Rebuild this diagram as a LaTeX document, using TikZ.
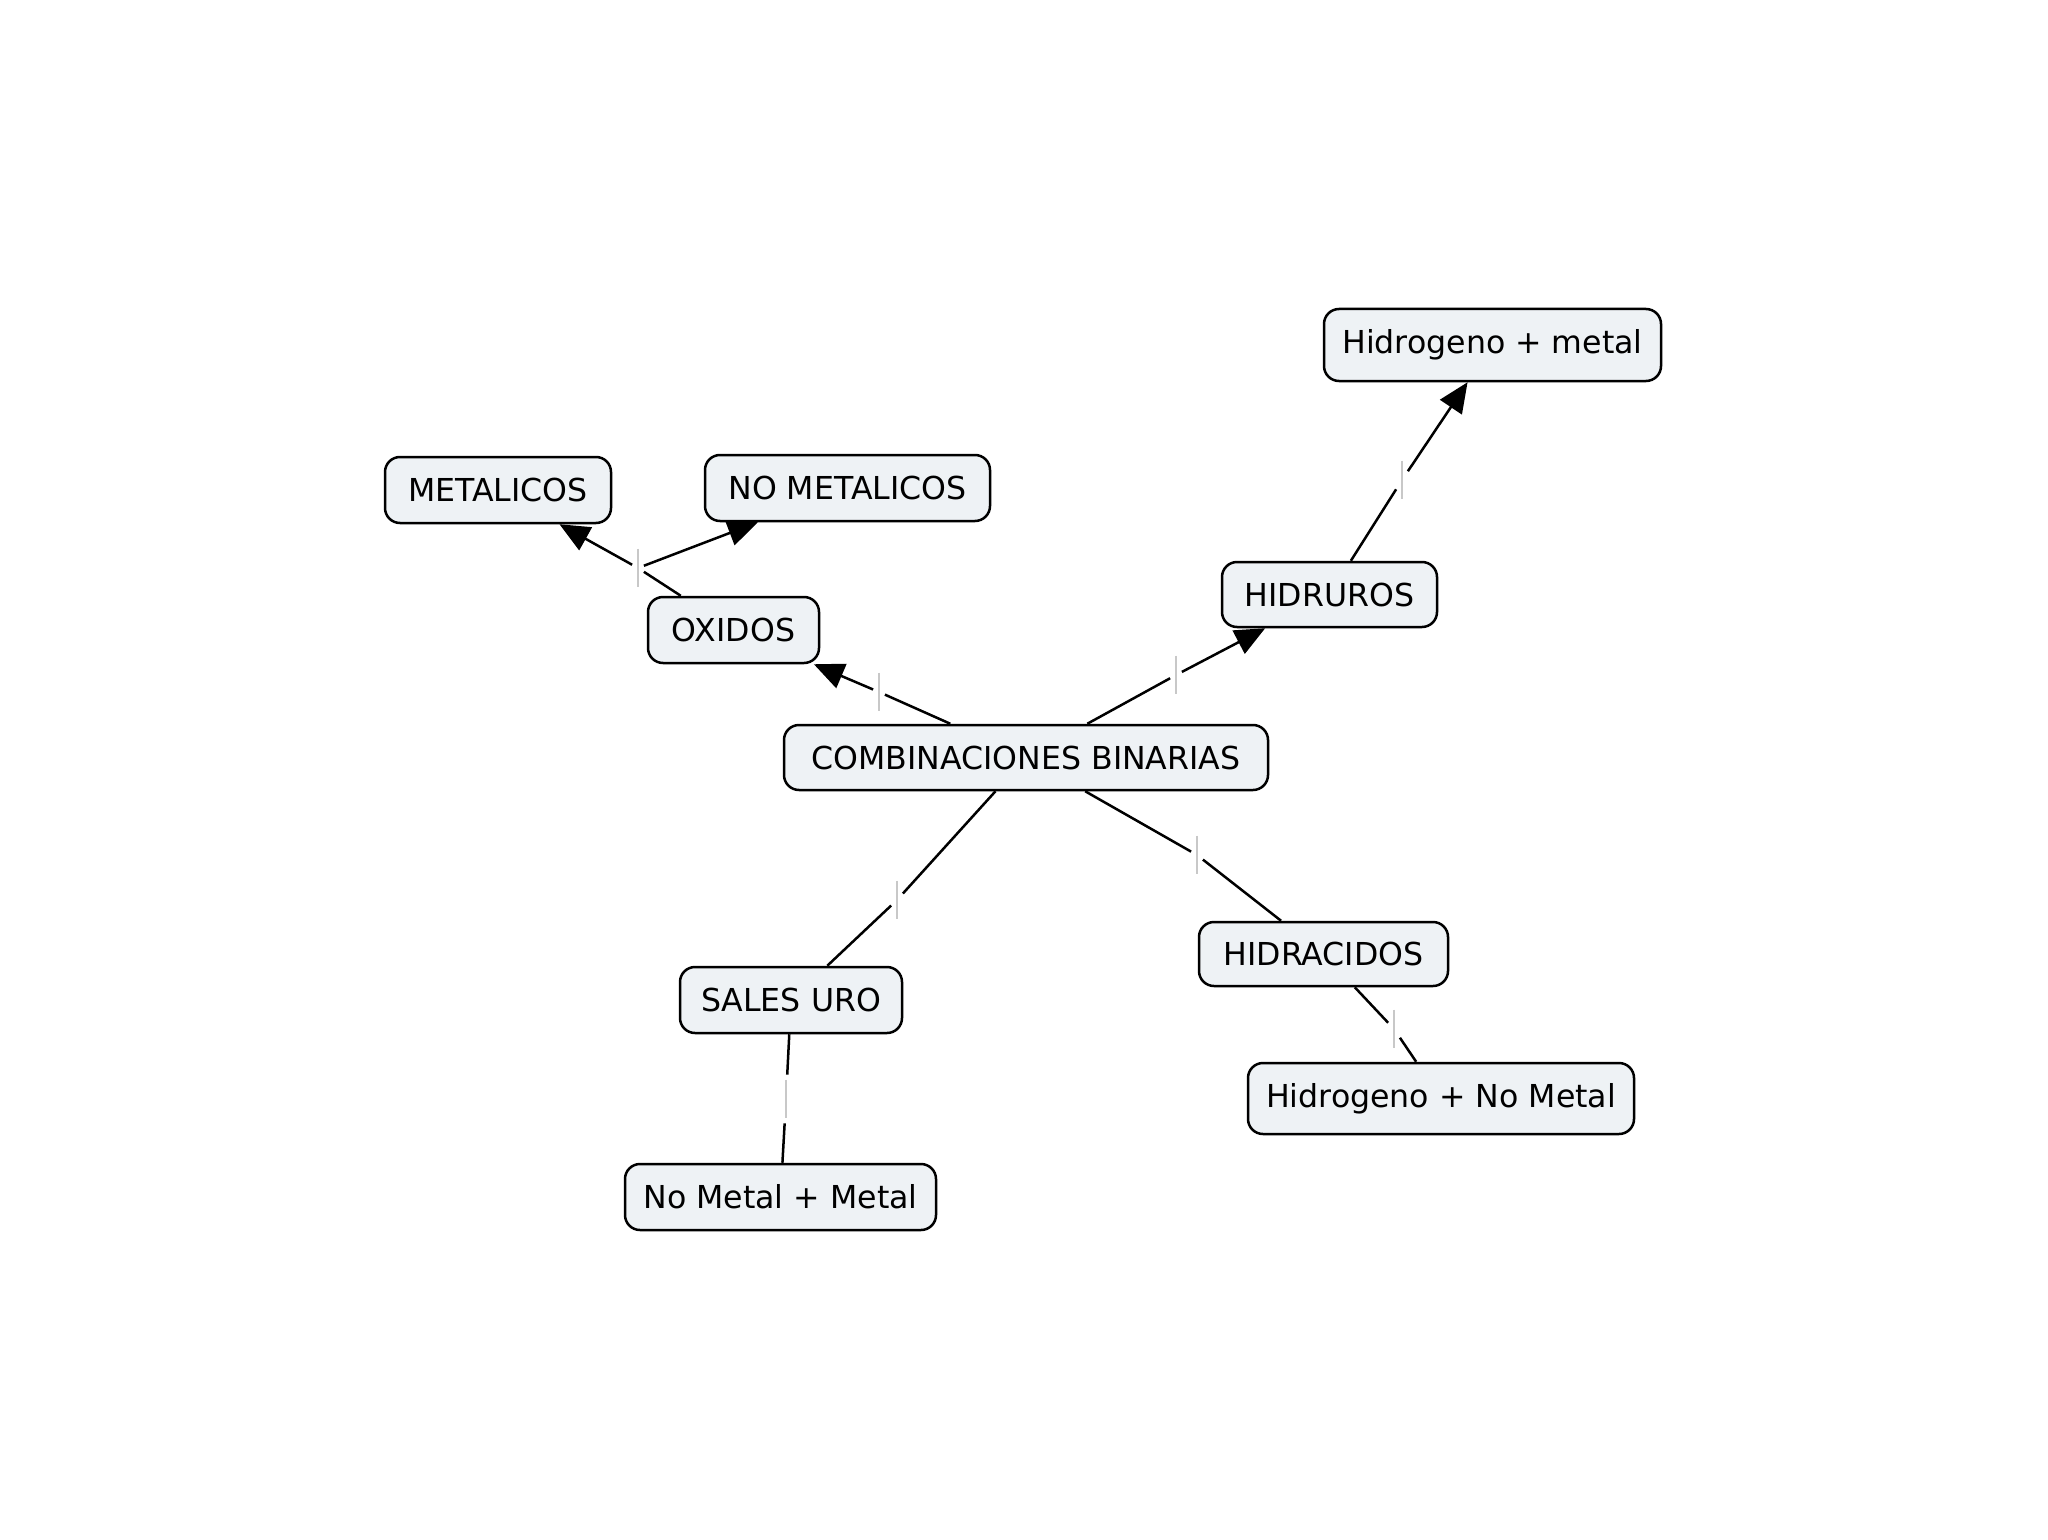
\documentclass[tikz,border=0pt]{standalone}
\usepackage{fontspec}
\setmainfont{DejaVu Sans}
\usetikzlibrary{arrows.meta}
\definecolor{nodefill}{RGB}{238,242,245}
\definecolor{tickgray}{RGB}{200,200,200}
\begin{document}
\begin{tikzpicture}[x=0.5pt,y=-0.5pt,
  concept/.style={draw=black, line width=1.25pt, fill=nodefill, rounded corners=7.5pt,
    inner sep=0pt, font=\fontsize{15.8}{18}\selectfont},
  lbl/.style={inner sep=0pt, minimum width=5.5pt, minimum height=24pt},
  tick/.style={draw=tickgray, line width=0.7pt},
  link/.style={draw=black, line width=1.25pt},
  arrowlink/.style={link, -{Triangle[length=15pt,width=13pt]}}]
\useasboundingbox (0,0) rectangle (2048,1540);

% concepts
\node[concept, minimum width=242pt, minimum height=32.5pt] (comb)   at (1026,757.5) {COMBINACIONES BINARIAS};
\node[concept, minimum width=85.5pt, minimum height=33pt]  (ox)     at (733.5,630)  {OXIDOS};
\node[concept, minimum width=113pt, minimum height=33pt]   (met)    at (498,490)    {METALICOS};
\node[concept, minimum width=142.5pt, minimum height=33pt] (nomet)  at (847.5,488)  {NO METALICOS};
\node[concept, minimum width=107.5pt, minimum height=32.5pt] (hidru) at (1329.5,594.5) {HIDRUROS};
\node[concept, minimum width=168.5pt, minimum height=36pt] (hm)     at (1492.5,345) {Hidrogeno + metal};
\node[concept, minimum width=124.5pt, minimum height=32pt] (hidra)  at (1323.5,954) {HIDRACIDOS};
\node[concept, minimum width=193pt, minimum height=35.5pt] (hnm)    at (1441,1098.5) {Hidrogeno + No Metal};
\node[concept, minimum width=111pt, minimum height=33pt]   (sales)  at (791,1000)   {SALES URO};
\node[concept, minimum width=155.5pt, minimum height=33pt] (nmm)    at (780.5,1197) {No Metal + Metal};

% empty link labels
\node[lbl] (l1) at (879,692)  {};
\node[lbl] (l2) at (638,568)  {};
\node[lbl] (l3) at (1176,675) {};
\node[lbl] (l4) at (1402,480) {};
\node[lbl] (l5) at (897,900)  {};
\node[lbl] (l6) at (1197,855) {};
\node[lbl] (l7) at (786,1099) {};
\node[lbl] (l8) at (1394,1029) {};
\foreach \l in {l1,l2,l3,l4,l5,l6,l7,l8}
  \draw[tick] ([yshift=-2.5pt]\l.north) -- ([yshift=2.5pt]\l.south);

% connectors
\draw[link] (comb) -- (l1);
\draw[arrowlink] (l1) -- (ox);
\draw[link] (ox) -- (l2);
\draw[arrowlink] (l2) -- (met);
\draw[arrowlink] (l2) -- (nomet);
\draw[link] (comb) -- (l3);
\draw[arrowlink] (l3) -- (hidru);
\draw[link] (hidru) -- (l4);
\draw[arrowlink] (l4) -- (hm);
\draw[link] (comb) -- (l5);
\draw[link] (l5) -- (sales);
\draw[link] (comb) -- (l6);
\draw[link] (l6) -- (hidra);
\draw[link] (sales) -- (l7);
\draw[link] (l7) -- (nmm);
\draw[link] (hidra) -- (l8);
\draw[link] (l8) -- (hnm);
\end{tikzpicture}
\end{document}
